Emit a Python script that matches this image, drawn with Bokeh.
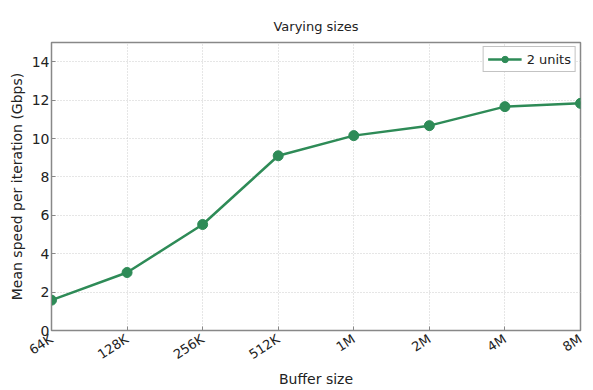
import math
from bokeh.plotting import figure
from bokeh.models import FixedTicker, Range1d, Legend, LegendItem
from bokeh.embed import file_html
from bokeh.resources import INLINE

sizes = ["64K", "128K", "256K", "512K", "1M", "2M", "4M", "8M"]
speed = [1.58, 3.02, 5.52, 9.1, 10.15, 10.67, 11.66, 11.83]
series_name = "2 units"
y_ticks = [0, 2, 4, 6, 8, 10, 12, 14]

x = list(range(len(sizes)))
color = "#2e8b57"
font = "DejaVu Sans"
txt = "#222222"

p = figure(width=593, height=390, output_backend="svg", toolbar_location=None,
           x_range=Range1d(0, len(sizes) - 1), y_range=Range1d(0, 15),
           min_border_left=51, min_border_right=13, min_border_top=42, min_border_bottom=56)

p.title.text = "Varying sizes"
p.title.align = "center"
p.title.text_font = font
p.title.text_font_size = "13px"
p.title.text_font_style = "normal"
p.title.text_color = txt
p.title.standoff = 18

ln = p.line(x, speed, line_color=color, line_width=2.5)
sc = p.scatter(x, speed, size=10, fill_color=color, line_color=color)

p.xaxis.ticker = FixedTicker(ticks=x)
p.xaxis.major_label_overrides = {i: s for i, s in enumerate(sizes)}
p.xaxis.major_label_orientation = math.radians(33)
p.yaxis.ticker = FixedTicker(ticks=y_ticks)

for ax in [p.xaxis[0], p.yaxis[0]]:
    ax.major_label_text_font = font
    ax.major_label_text_color = txt
    ax.axis_label_text_font = font
    ax.axis_label_text_font_size = "14px"
    ax.axis_label_text_font_style = "normal"
    ax.axis_label_text_color = txt
    ax.axis_line_color = "#888888"
    ax.major_tick_line_color = "#888888"
    ax.major_tick_in = 4
    ax.major_tick_out = 0
    ax.minor_tick_line_color = None

p.yaxis.major_label_text_font_size = "14px"
p.xaxis.major_label_text_font_size = "13px"
p.yaxis.major_label_standoff = 2
p.xaxis.major_label_standoff = 7
p.xaxis.axis_label = "Buffer size"
p.yaxis.axis_label = "Mean speed per iteration (Gbps)"
p.xaxis.axis_label_standoff = 0
p.yaxis.axis_label_standoff = 4

p.outline_line_color = "#888888"
p.outline_line_width = 1.5

p.grid.grid_line_color = "#cccccc"
p.grid.grid_line_dash = "1 2"
p.grid.grid_line_width = 1

legend = Legend(items=[LegendItem(label=series_name, renderers=[ln, sc])],
                location="top_right")
legend.label_text_font = font
legend.label_text_font_size = "13px"
legend.label_text_color = txt
legend.border_line_color = "#888888"
legend.glyph_width = 34
legend.glyph_height = 16
legend.label_height = 16
legend.padding = 4
legend.margin = 4
legend.spacing = 0
p.add_layout(legend)

open("out.html", "w").write(file_html(p, INLINE))
